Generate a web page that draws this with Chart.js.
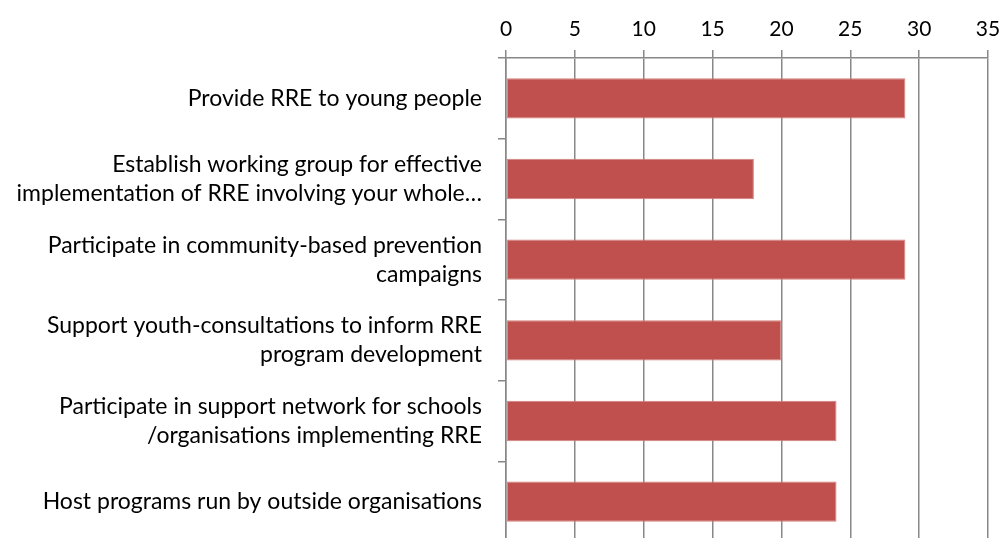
<!DOCTYPE html>
<html>
<head>
<meta charset="utf-8">
<script src="https://cdn.jsdelivr.net/npm/chart.js@4"></script>
<style>
  html, body { margin: 0; padding: 0; background: #fff; overflow: hidden; }
  #wrap { width: 1007px; height: 542px; }
</style>
</head>
<body>
<div id="wrap"><canvas id="c" width="1007" height="542"></canvas></div>
<script>
// Activities (multi-line labels are arrays of lines)
const categories = [
  "Provide RRE to young people",
  ["Establish working group for effective", "implementation of RRE involving your whole\u2026"],
  ["Participate in community-based prevention", "campaigns"],
  ["Support youth-consultations to inform RRE", "program development"],
  ["Participate in support network for schools", "/organisations implementing RRE"],
  "Host programs run by outside organisations"
];
const responses = [29, 18, 29, 20, 24, 24];
const axisMin = 0;
const axisMax = 35;
const axisStep = 5;

const gridGrey = '#888888';
const fontFamily = 'Lato, "Open Sans", sans-serif';

new Chart(document.getElementById('c'), {
  type: 'bar',
  data: {
    labels: categories,
    datasets: [{
      data: responses,
      backgroundColor: '#C0504D',
      borderColor: '#D4807D',
      borderWidth: 1,
      borderSkipped: false,
      barPercentage: 0.5,
      categoryPercentage: 1.0
    }]
  },
  options: {
    indexAxis: 'y',
    responsive: false,
    devicePixelRatio: 1,
    animation: false,
    layout: { padding: { top: 0, right: 19, bottom: 0, left: 0 } },
    plugins: {
      legend: { display: false },
      tooltip: { enabled: false }
    },
    scales: {
      x: {
        position: 'top',
        min: axisMin,
        max: axisMax,
        ticks: {
          stepSize: axisStep,
          color: '#000',
          padding: 8.5,
          font: { family: fontFamily, size: 21, lineHeight: 1.2 }
        },
        grid: {
          color: gridGrey,
          lineWidth: 1.5,
          tickLength: 8,
          tickColor: gridGrey
        },
        border: { display: true, color: gridGrey, width: 1.5 },
        afterFit: (scale) => {
          scale.height = 58;
          scale.paddingLeft = 0;
          scale.paddingRight = 0;
        }
      },
      y: {
        ticks: {
          color: '#000',
          padding: 16,
          autoSkip: false,
          font: { family: fontFamily, size: 23, lineHeight: 1.26 }
        },
        grid: {
          display: true,
          drawOnChartArea: false,
          offset: true,
          tickLength: 8,
          color: gridGrey,
          lineWidth: 1.5
        },
        border: { display: true, color: gridGrey, width: 1.5 },
        afterFit: (scale) => {
          scale.width = 506;
          // plot runs right to the bottom edge of the canvas
          scale.paddingTop = 0;
          scale.paddingBottom = 0;
        }
      }
    }
  }
});
</script>
</body>
</html>
